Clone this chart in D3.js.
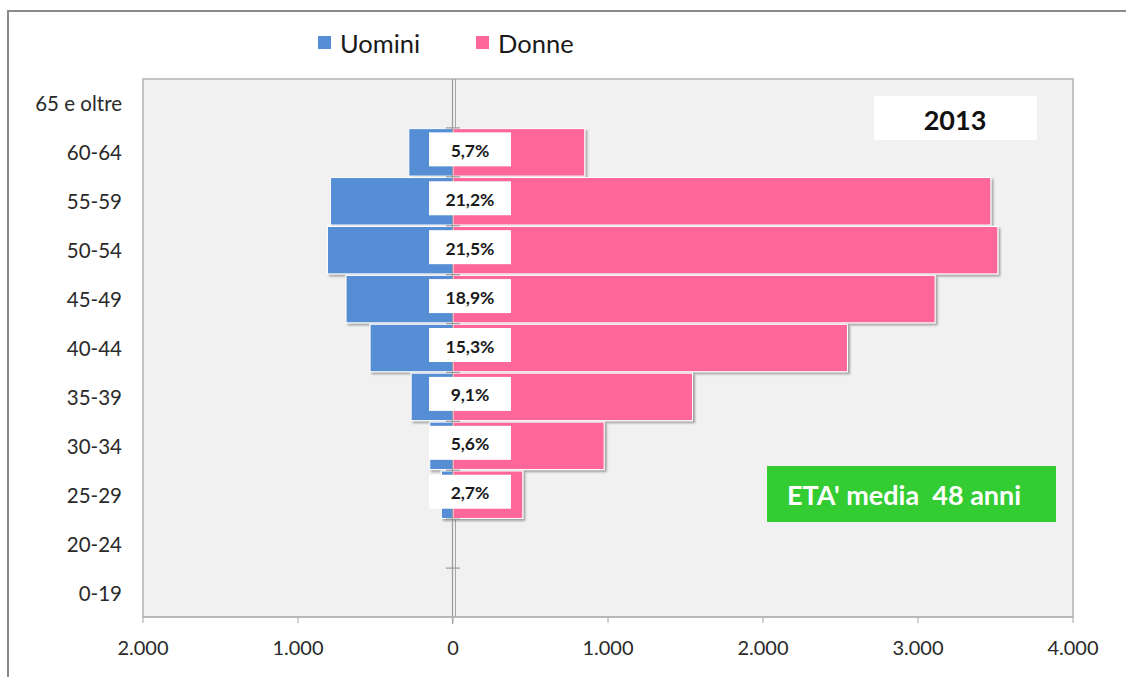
<!DOCTYPE html>
<html><head><meta charset="utf-8">
<script src="https://cdn.jsdelivr.net/npm/d3@7"></script>
<style>
html,body{margin:0;background:#fff;overflow:hidden;}
svg{display:block;font-family:Lato,"Open Sans",sans-serif;}
</style>
</head><body>
<svg id="c" width="1126" height="677"></svg>
<script>
// ---- data ----
const categories = ["0-19","20-24","25-29","30-34","35-39","40-44","45-49","50-54","55-59","60-64","65 e oltre"];
const uomini = [0,0,75,150,270,535,690,810,790,285,0];
const donne  = [0,0,450,975,1545,2545,3110,3515,3470,850,0];
const percent = ["","","2,7%","5,6%","9,1%","15,3%","18,9%","21,5%","21,2%","5,7%",""];
const xTicks = [-2000,-1000,0,1000,2000,3000,4000];
const seriesNames = ["Uomini","Donne"];
const seriesColors = ["#558ED5","#FF6699"];
const yearLabel = "2013";
const noteLabel = "ETA' media  48 anni";

const svg = d3.select("#c");
const L = 143, R = 1073, T = 79, B = 617;
const x = d3.scaleLinear().domain([-2000,4000]).range([L,R]);
const y = d3.scaleBand().domain(categories.slice().reverse()).range([T,B]).paddingInner(0.03).paddingOuter(0.015);
const step = y.step();
const cy = c => y(c) + y.bandwidth()/2;
const x0 = x(0);

const loc = d3.formatLocale({decimal:",",thousands:".",grouping:[3],currency:["","€"]});
const fmt = loc.format(",");

// filter
const defs = svg.append("defs");
const f = defs.append("filter").attr("id","sh").attr("x","-10%").attr("y","-20%").attr("width","130%").attr("height","150%");
f.append("feDropShadow").attr("dx",2).attr("dy",2).attr("stdDeviation",1.2).attr("flood-color","#000").attr("flood-opacity",0.35);

// outer frame (left and top edges visible)
svg.append("path").attr("d","M8,677V11H1126").attr("fill","none").attr("stroke","#8a8a8a").attr("stroke-width",2);

// plot area
svg.append("rect").attr("x",L).attr("y",T).attr("width",R-L).attr("height",B-T)
  .attr("fill","#F1F1F1").attr("stroke","#b3b3b3").attr("stroke-width",1.5);

// back zero line
svg.append("line").attr("x1",x0+2.5).attr("x2",x0+2.5).attr("y1",T).attr("y2",B)
  .attr("stroke","#a6a6a6").attr("stroke-width",1);

const data = categories.map((c,i)=>({c, u:uomini[i], d:donne[i], p:percent[i]}));

// bars
const g = svg.append("g").attr("filter","url(#sh)");
g.selectAll("rect.u").data(data.filter(d=>d.u>0)).join("rect")
  .attr("x",d=>x(-d.u)).attr("width",d=>x0-x(-d.u))
  .attr("y",d=>y(d.c)).attr("height",y.bandwidth())
  .attr("fill",seriesColors[0]).attr("stroke","#fff").attr("stroke-width",1);
g.selectAll("rect.d").data(data.filter(d=>d.d>0)).join("rect")
  .attr("x",x0).attr("width",d=>x(d.d)-x0)
  .attr("y",d=>y(d.c)).attr("height",y.bandwidth())
  .attr("fill",seriesColors[1]).attr("stroke","#fff").attr("stroke-width",1);

// category axis at zero
svg.append("line").attr("x1",x0-0.5).attr("x2",x0-0.5).attr("y1",T).attr("y2",B+7)
  .attr("stroke","#9a9a9a").attr("stroke-width",1.2);
const bounds = d3.range(1, categories.length).map(i=>T+i*step);
svg.selectAll("line.ct").data(bounds).join("line")
  .attr("x1",x0-7).attr("x2",x0+7).attr("y1",d=>d).attr("y2",d=>d)
  .attr("stroke","#9a9a9a").attr("stroke-width",1.2);

// labels
const lab = svg.append("g");
data.filter(d=>d.p).forEach(d=>{
  const yc = cy(d.c) - 3;
  lab.append("rect").attr("x",x0-24).attr("y",yc-17).attr("width",82).attr("height",34).attr("fill","#fff");
  lab.append("text").attr("x",x0+17).attr("y",yc+1).attr("text-anchor","middle").attr("dominant-baseline","central")
    .attr("font-weight","bold").attr("font-size",17.5).attr("fill","#1a1a1a").text(d.p);
});

// x axis
svg.append("line").attr("x1",L).attr("x2",R).attr("y1",B).attr("y2",B).attr("stroke","#b3b3b3").attr("stroke-width",1.5);
svg.selectAll("line.xt").data(xTicks).join("line")
  .attr("x1",d=>x(d)).attr("x2",d=>x(d)).attr("y1",B).attr("y2",B+6)
  .attr("stroke","#b3b3b3").attr("stroke-width",1.2);
svg.selectAll("text.xl").data(xTicks).join("text")
  .attr("x",d=>x(d)).attr("y",647).attr("text-anchor","middle").attr("dominant-baseline","central")
  .attr("font-size",20).attr("fill","#2a2a2a").text(d=>fmt(Math.abs(d)));

// y labels
svg.selectAll("text.yl").data(categories).join("text")
  .attr("x",122).attr("y",d=>cy(d)).attr("text-anchor","end").attr("dominant-baseline","central")
  .attr("font-size",20.5).attr("fill","#2a2a2a").text(d=>d);

// legend
const legX = [318, 476];
seriesNames.forEach((n,i)=>{
  svg.append("rect").attr("x",legX[i]).attr("y",36).attr("width",13).attr("height",13).attr("fill",seriesColors[i]);
  svg.append("text").attr("x",legX[i]+22).attr("y",43).attr("dominant-baseline","central")
    .attr("font-size",25.5).attr("fill","#1a1a1a").text(n);
});

// year box
svg.append("rect").attr("x",874).attr("y",96).attr("width",163).attr("height",44).attr("fill","#fff");
svg.append("text").attr("x",955).attr("y",119).attr("text-anchor","middle").attr("dominant-baseline","central")
  .attr("font-weight","bold").attr("font-size",27).attr("fill","#111").text(yearLabel);

// note box
svg.append("rect").attr("x",767).attr("y",466).attr("width",289).attr("height",56).attr("fill","#33CC33");
svg.append("text").attr("x",787).attr("y",494).attr("dominant-baseline","central")
  .attr("font-weight","bold").attr("font-size",27).attr("fill","#fff").style("white-space","pre").text(noteLabel);
</script>
</body></html>
